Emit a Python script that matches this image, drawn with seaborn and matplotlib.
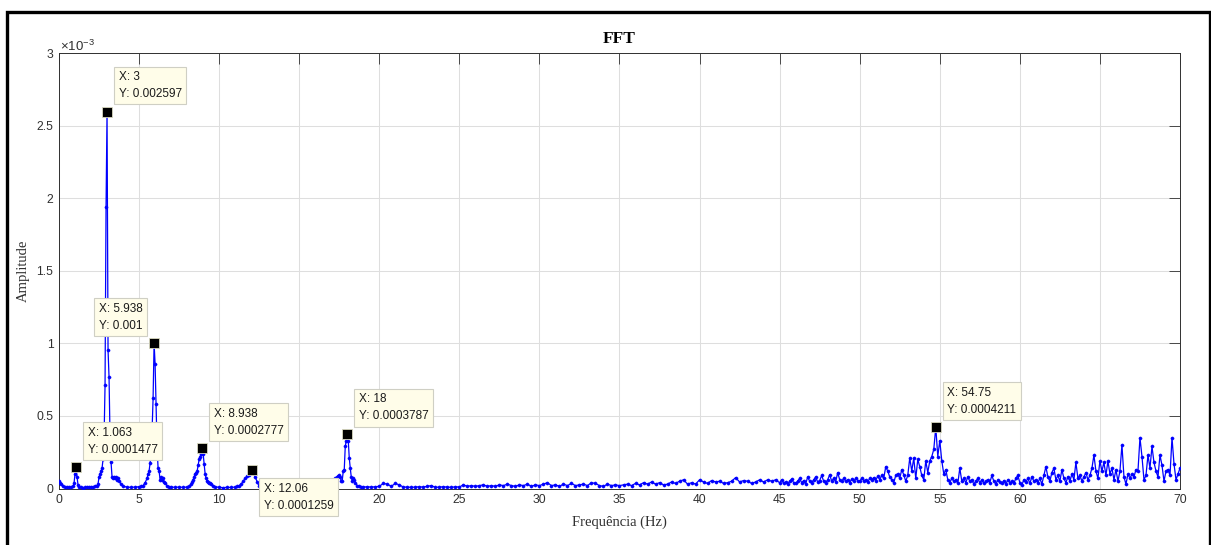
import numpy as np
import pandas as pd
import matplotlib
matplotlib.use("Agg")
import matplotlib.pyplot as plt
from matplotlib.lines import Line2D
import seaborn as sns

# ---------------------------------------------------------------------------
# Spectrum data. Amplitudes are stored in units of 1e-4.
# ---------------------------------------------------------------------------
# 0-20 Hz, finely resolved around the harmonics
freq_low = [
    0.0, 0.0625, 0.125, 0.25, 0.375, 0.5, 0.625, 0.75, 0.875, 0.9375,
    1.0, 1.0625, 1.125, 1.1875, 1.25, 1.375, 1.5, 1.625, 1.75, 1.875,
    2.0, 2.125, 2.25, 2.375, 2.4375, 2.5, 2.5625, 2.625, 2.6875, 2.75,
    2.8125, 2.875, 2.9375, 3.0, 3.0625, 3.125, 3.1875, 3.25, 3.3125, 3.375,
    3.4375, 3.5, 3.5625, 3.625, 3.6875, 3.75, 3.875, 4.0, 4.25, 4.5,
    4.75, 5.0, 5.125, 5.25, 5.375, 5.5, 5.5625, 5.625, 5.6875, 5.75,
    5.8125, 5.875, 5.9375, 6.0, 6.0625, 6.125, 6.1875, 6.25, 6.3125, 6.375,
    6.4375, 6.5, 6.5625, 6.625, 6.75, 6.875, 7.0, 7.25, 7.5, 7.75,
    8.0, 8.125, 8.25, 8.3125, 8.375, 8.4375, 8.5, 8.5625, 8.625, 8.6875,
    8.75, 8.8125, 8.875, 8.9375, 9.0, 9.0625, 9.125, 9.1875, 9.25, 9.3125,
    9.375, 9.4375, 9.5, 9.625, 9.75, 10.0, 10.25, 10.5, 10.75, 11.0,
    11.125, 11.25, 11.375, 11.5, 11.625, 11.75, 11.875, 12.0, 12.0625, 12.125,
    12.25, 12.375, 12.5, 12.75, 13.0, 13.5, 14.0, 14.5, 15.0, 15.5,
    16.0, 16.5, 17.0, 17.25, 17.375, 17.4375, 17.5, 17.5625, 17.625, 17.6875,
    17.75, 17.8125, 17.875, 17.9375, 18.0, 18.0625, 18.125, 18.1875, 18.25, 18.3125,
    18.375, 18.4375, 18.5, 18.625, 18.75, 18.875, 19.0, 19.25, 19.5, 19.75,
]
amp_low_e4 = [
    0.5, 0.4, 0.3, 0.15, 0.1, 0.08, 0.07, 0.08, 0.15, 0.35,
    1.0, 1.477, 0.8, 0.25, 0.12, 0.08, 0.06, 0.07, 0.08, 0.1,
    0.1, 0.12, 0.15, 0.2, 0.3, 0.8, 1.0, 1.2, 1.4, 2.0,
    3.4, 7.1, 19.4, 25.97, 9.55, 7.65, 3.5, 1.8, 0.8, 0.7,
    0.8, 0.7, 0.8, 0.6, 0.7, 0.5, 0.3, 0.15, 0.1, 0.08,
    0.1, 0.12, 0.15, 0.2, 0.4, 0.7, 1.0, 1.2, 1.75, 2.5,
    4.0, 6.2, 10.0, 8.6, 5.8, 2.8, 1.4, 1.2, 0.6, 0.8,
    0.6, 0.7, 0.45, 0.35, 0.2, 0.12, 0.1, 0.08, 0.1, 0.08,
    0.1, 0.15, 0.3, 0.45, 0.6, 0.8, 1.0, 1.1, 1.2, 1.6,
    2.0, 2.2, 2.4, 2.777, 2.4, 1.7, 1.0, 0.7, 0.5, 0.45,
    0.4, 0.4, 0.3, 0.2, 0.12, 0.08, 0.06, 0.08, 0.07, 0.1,
    0.15, 0.2, 0.3, 0.5, 0.7, 0.85, 0.95, 1.1, 1.259, 1.1,
    0.8, 0.45, 0.15, 0.1, 0.12, 0.1, 0.12, 0.1, 0.12, 0.15,
    0.2, 0.3, 0.5, 0.7, 0.8, 0.85, 0.9, 0.8, 0.5, 0.55,
    1.2, 1.3, 2.9, 3.3, 3.787, 3.3, 2.1, 1.4, 0.8, 0.5,
    0.7, 0.6, 0.4, 0.2, 0.15, 0.12, 0.1, 0.12, 0.1, 0.12,
]

# 20-45 Hz, 0.25 Hz bins
freq_mid = np.arange(20.0, 45.0, 0.25)
amp_mid_e4 = [
    0.15, 0.35, 0.3, 0.15,   0.35, 0.25, 0.1, 0.1,    0.08, 0.1, 0.12, 0.1,
    0.15, 0.2, 0.08, 0.1,    0.12, 0.1, 0.08, 0.12,   0.1, 0.25, 0.15, 0.2,
    0.15, 0.2, 0.25, 0.15,   0.2, 0.15, 0.25, 0.2,    0.3, 0.2, 0.15, 0.25,
    0.2, 0.3, 0.15, 0.25,    0.2, 0.3, 0.4, 0.2,      0.25, 0.15, 0.3, 0.2,
    0.35, 0.2, 0.25, 0.3,    0.2, 0.4, 0.35, 0.2,     0.15, 0.3, 0.2, 0.25,
    0.2, 0.25, 0.3, 0.2,     0.35, 0.25, 0.4, 0.3,    0.45, 0.3, 0.4, 0.25,
    0.3, 0.45, 0.35, 0.5,    0.6, 0.3, 0.4, 0.3,      0.6, 0.45, 0.35, 0.55,
    0.45, 0.5, 0.35, 0.4,    0.5, 0.75, 0.45, 0.55,   0.5, 0.35, 0.45, 0.6,
    0.45, 0.6, 0.5, 0.6,
]

# 45-70 Hz, 0.125 Hz bins
freq_high = np.arange(45.0, 70.0001, 0.125)
amp_high_e4 = [
    0.4, 0.6, 0.35, 0.45, 0.3, 0.5, 0.65, 0.4,      # 45
    0.35, 0.5, 0.7, 0.4, 0.55, 0.3, 0.8, 0.5,       # 46
    0.4, 0.6, 0.8, 0.45, 0.55, 0.9, 0.5, 0.4,       # 47
    0.6, 0.95, 0.5, 0.7, 0.45, 1.1, 0.6, 0.5,       # 48
    0.7, 0.5, 0.6, 0.4, 0.65, 0.5, 0.7, 0.55,       # 49
    0.5, 0.7, 0.55, 0.6, 0.45, 0.7, 0.6, 0.75,      # 50
    0.55, 0.85, 0.6, 0.9, 0.7, 1.5, 1.2, 0.8,       # 51
    0.6, 0.4, 0.9, 1.0, 0.7, 1.3, 0.95, 0.5,        # 52
    0.9, 2.1, 1.2, 2.1, 0.7, 2.0, 1.5, 0.9,         # 53
    0.6, 1.9, 1.1, 1.9, 2.2, 2.7, 4.211, 2.2,       # 54
    3.3, 1.9, 1.0, 1.3, 0.6, 0.4, 0.7, 0.5,         # 55
    0.6, 0.35, 1.4, 0.5, 0.7, 0.4, 0.8, 0.5,        # 56
    0.6, 0.3, 0.5, 0.7, 0.4, 0.6, 0.35, 0.5,        # 57
    0.6, 0.4, 0.9, 0.5, 0.3, 0.6, 0.45, 0.35,       # 58
    0.55, 0.3, 0.6, 0.4, 0.5, 0.35, 0.7, 0.9,       # 59
    0.4, 0.25, 0.6, 0.45, 0.7, 0.35, 0.8, 0.5,      # 60
    0.6, 0.4, 0.7, 0.3, 0.9, 1.5, 0.8, 0.5,         # 61
    1.1, 1.4, 0.6, 0.9, 0.5, 1.3, 0.7, 0.4,         # 62
    0.8, 0.5, 1.0, 0.6, 1.8, 0.7, 0.9, 0.5,         # 63
    0.8, 1.1, 0.6, 0.9, 1.4, 2.3, 1.2, 0.7,         # 64
    1.9, 1.2, 1.8, 0.9, 1.9, 1.0, 1.4, 0.6,         # 65
    1.3, 0.5, 1.2, 3.0, 0.8, 0.3, 1.0, 0.7,         # 66
    1.0, 0.8, 1.3, 1.2, 3.5, 2.2, 0.6, 0.9,         # 67
    2.3, 1.4, 2.9, 1.8, 1.2, 0.8, 2.3, 1.6,         # 68
    0.5, 1.2, 1.3, 0.9, 3.5, 1.7, 0.6, 1.0,         # 69
    1.4,                                            # 70
]

# Data tips (values as displayed)
tip_x_text = ["1.063", "3", "5.938", "8.938", "12.06", "18", "54.75"]
tip_y_text = ["0.0001477", "0.002597", "0.001", "0.0002777",
              "0.0001259", "0.0003787", "0.0004211"]

# Axis ticks; the 15 Hz label sits under the 12.06 Hz data tip
xticks = list(range(0, 75, 5))
xtick_labels = ["0", "5", "10", "", "20", "25", "30", "35", "40", "45",
                "50", "55", "60", "65", "70"]
yticks_e3 = [0, 0.5, 1, 1.5, 2, 2.5, 3]
ytick_labels = ["0", "0.5", "1", "1.5", "2", "2.5", "3"]

# ---------------------------------------------------------------------------
spectrum = pd.DataFrame({
    "freq": np.concatenate([freq_low, freq_mid, freq_high]),
    "amp": np.concatenate([amp_low_e4, amp_mid_e4, amp_high_e4]) * 1e-4,
})
tips = pd.DataFrame({
    "freq": [float(s) for s in tip_x_text],
    "amp": [float(s) for s in tip_y_text],
    "label": [f"X: {x}\nY: {y}" for x, y in zip(tip_x_text, tip_y_text)],
})

sns.set_theme(style="white")
plt.rcParams["font.family"] = ["Liberation Sans", "DejaVu Sans"]
plt.rcParams["mathtext.fontset"] = "custom"
plt.rcParams["mathtext.rm"] = "Liberation Sans"
plt.rcParams["mathtext.it"] = "Liberation Sans"

W, H = 1211, 545
fig = plt.figure(figsize=(W / 100, H / 100), dpi=100)
fig.patch.set_facecolor("white")

ax_l, ax_r, ax_t, ax_b = 59, 1180, 53, 488.5
ax = fig.add_axes([ax_l / W, 1 - ax_b / H, (ax_r - ax_l) / W, (ax_b - ax_t) / H])
ax.set_facecolor("white")

ink = "#303030"
ax.grid(True, color="#dedede", linewidth=0.75)
ax.set_axisbelow(True)

sns.lineplot(data=spectrum, x="freq", y="amp", ax=ax, estimator=None, sort=False,
             color="#0000ff", linewidth=0.9, marker="o", markersize=2.3,
             markeredgewidth=0.3, markeredgecolor="#0000ff", zorder=3)

sns.scatterplot(data=tips, x="freq", y="amp", ax=ax, marker="s", s=48,
                color="black", edgecolor="#d9d9c0", linewidth=0.6, zorder=4,
                legend=False)

# Data-tip boxes: direction of the box relative to its point
placement = {"1.063": "ne", "3": "ne", "5.938": "nw", "8.938": "ne",
             "12.06": "se", "18": "ne", "54.75": "ne"}
gap = 7
pad_px = 4.5
for xt, (_, row) in zip(tip_x_text, tips.iterrows()):
    d = placement[xt]
    dx = gap + pad_px if "e" in d else -(gap + pad_px)
    dy = gap + pad_px if "n" in d else -(gap + pad_px + 1)
    ax.annotate(row["label"], xy=(row["freq"], row["amp"]), xytext=(dx, dy),
                textcoords="offset pixels",
                ha="left" if "e" in d else "right",
                va="bottom" if "n" in d else "top",
                fontsize=8.5, color="#1a1a1a", linespacing=1.55,
                bbox=dict(boxstyle="square,pad=0.38", fc="#fffde9",
                          ec="#cfcfc4", lw=0.8),
                zorder=6, annotation_clip=False)

ax.set_xlim(0, 70)
ax.set_ylim(0, 3e-3)
ax.set_xticks(xticks)
ax.set_xticklabels(xtick_labels)
ax.set_yticks([v * 1e-3 for v in yticks_e3])
ax.set_yticklabels(ytick_labels)
ax.tick_params(axis="both", direction="in", length=8, width=0.6, color=ink,
               labelcolor=ink, labelsize=8.7, top=True, right=True)
ax.tick_params(axis="x", pad=4)
ax.tick_params(axis="y", pad=4)
for sp in ax.spines.values():
    sp.set_color(ink)
    sp.set_linewidth(0.7)

ax.text(0.001, 0.998, r"$\times$10$^{\mathrm{-3}}$", transform=ax.transAxes,
        ha="left", va="bottom", fontsize=9.5, color=ink)

ax.set_title("FFT", fontfamily="Liberation Serif", fontweight="bold",
             fontsize=12.5, color="black", pad=7)
ax.set_xlabel("Frequência (Hz)", fontfamily="Liberation Serif", fontsize=10.5,
              color=ink, labelpad=7)
ax.set_ylabel("Amplitude", fontfamily="Liberation Serif", fontsize=10.5,
              color=ink, labelpad=5)

# Outer frame (left, top, right)
fx = [6.5 / W, 6.5 / W, 1209.5 / W, 1209.5 / W]
fy = [0.0, 1 - 11.5 / H, 1 - 11.5 / H, 0.0]
fig.add_artist(Line2D(fx, fy, transform=fig.transFigure, color="black",
                      linewidth=2.4, solid_joinstyle="miter"))

fig.savefig("out.png", dpi=100, facecolor="white")
